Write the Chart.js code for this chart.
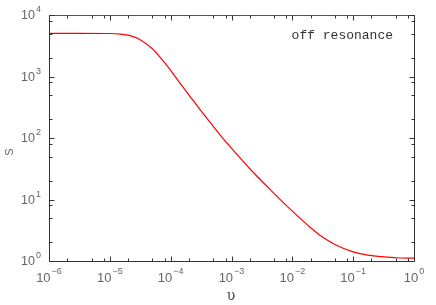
<!DOCTYPE html>
<html>
<head>
<meta charset="utf-8">
<script src="https://cdn.jsdelivr.net/npm/chart.js@4/dist/chart.umd.min.js"></script>
<style>
html,body{margin:0;padding:0;background:#fff;}
#wrap{width:436px;height:305px;position:relative;}
</style>
</head>
<body>
<div id="wrap"><canvas id="c" width="436" height="305"></canvas></div>
<script>
// frequency nu (x) and signal S (y)
const nu = [1e-6, 3e-6, 1e-5, 1.5e-5, 2e-5, 3e-5, 5e-5, 7e-5, 1e-4, 1.4e-4, 2e-4, 3e-4, 5e-4, 7e-4,
            1e-3, 2e-3, 5e-3, 1e-2, 2e-2, 3e-2, 5e-2, 1e-1, 2e-1, 5e-1, 1];
const S  = [5040, 5040, 5000, 4880, 4700, 4070, 2820, 1950, 1260, 794, 500, 295, 155, 102,
            68, 31.6, 12.6, 6.46, 3.47, 2.52, 1.86, 1.41, 1.22, 1.13, 1.11];
const xTickExps = [-6, -5, -4, -3, -2, -1, 0];
const yTickExps = [0, 1, 2, 3, 4];
const minorMult = [2, 5, 8];
const xTitle = 'υ';
const yTitle = 'S';
const annotation = 'off resonance';

const framePlugin = {
  id: 'frame',
  afterDraw(chart) {
    const ctx = chart.ctx;
    const a = chart.chartArea;
    const xs = chart.scales.x, ys = chart.scales.y;
    ctx.save();
    const L = Math.round(a.left) + 0.5, R = Math.round(a.right) + 0.5;
    const T = Math.round(a.top) + 0.5, B = Math.round(a.bottom) + 0.5;
    // frame
    ctx.lineWidth = 1;
    ctx.strokeStyle = '#555';
    ctx.beginPath();
    ctx.moveTo(L - 0.5, T); ctx.lineTo(R, T);
    ctx.stroke();
    ctx.strokeStyle = '#333';
    ctx.beginPath();
    ctx.moveTo(L, T); ctx.lineTo(L, B); ctx.lineTo(R, B); ctx.lineTo(R, T);
    ctx.stroke();
    // ticks
    ctx.beginPath();
    for (let i = 0; i < xTickExps.length; i++) {
      const e = xTickExps[i];
      const px = Math.round(xs.getPixelForValue(Math.pow(10, e))) + 0.5;
      ctx.moveTo(px, B); ctx.lineTo(px, B - 5);
      ctx.moveTo(px, T); ctx.lineTo(px, T + 5);
      if (i < xTickExps.length - 1) {
        for (const m of minorMult) {
          const p = Math.round(xs.getPixelForValue(m * Math.pow(10, e))) + 0.5;
          ctx.moveTo(p, B); ctx.lineTo(p, B - 3);
          ctx.moveTo(p, T); ctx.lineTo(p, T + 3);
        }
      }
    }
    for (let i = 0; i < yTickExps.length; i++) {
      const e = yTickExps[i];
      const py = Math.round(ys.getPixelForValue(Math.pow(10, e))) + 0.5;
      ctx.moveTo(L, py); ctx.lineTo(L + 5, py);
      ctx.moveTo(R, py); ctx.lineTo(R - 5, py);
      if (i < yTickExps.length - 1) {
        for (const m of minorMult) {
          const p = Math.round(ys.getPixelForValue(m * Math.pow(10, e))) + 0.5;
          ctx.moveTo(L, p); ctx.lineTo(L + 3, p);
          ctx.moveTo(R, p); ctx.lineTo(R - 3, p);
        }
      }
    }
    ctx.stroke();

    // x tick labels
    ctx.fillStyle = '#666';
    ctx.textBaseline = 'middle';
    for (const e of xTickExps) {
      const px = xs.getPixelForValue(Math.pow(10, e));
      ctx.font = '13px "Liberation Sans"';
      const w1 = ctx.measureText('10').width;
      ctx.font = '9px "Liberation Sans"';
      const es = e < 0 ? '\u2212' + Math.abs(e) : String(e);
      const w2 = ctx.measureText(es).width;
      const start = px - (w1 + 1 + w2) / 2;
      ctx.font = '13px "Liberation Sans"';
      ctx.textAlign = 'left';
      ctx.fillText('10', start, 278);
      ctx.font = '9px "Liberation Sans"';
      ctx.fillText(es, start + w1 + 1, 271.5);
    }
    // y tick labels
    for (const e of yTickExps) {
      const py = ys.getPixelForValue(Math.pow(10, e));
      ctx.font = '9px "Liberation Sans"';
      ctx.textAlign = 'right';
      const es = String(e);
      const w2 = ctx.measureText(es).width;
      const right = 41;
      ctx.fillText(es, right, py - 5);
      ctx.font = '12.5px "Liberation Sans"';
      ctx.fillText('10', right - w2 - 1, py + 1);
    }
    // axis titles
    ctx.fillStyle = '#444';
    ctx.font = '14px "DejaVu Serif"';
    ctx.textAlign = 'center';
    ctx.textBaseline = 'middle';
    ctx.fillText(xTitle, 231, 296);
    ctx.save();
    ctx.translate(10, 152);
    ctx.rotate(-Math.PI / 2);
    ctx.font = '11px "Liberation Sans"';
    ctx.fillStyle = '#666';
    ctx.fillText(yTitle, 0, 0);
    ctx.restore();
    // annotation
    ctx.fillStyle = '#333';
    ctx.font = '13px "Liberation Mono"';
    ctx.textAlign = 'right';
    ctx.textBaseline = 'alphabetic';
    ctx.fillText(annotation, 393, 39);
    ctx.restore();
  }
};

new Chart(document.getElementById('c'), {
  type: 'line',
  data: {
    datasets: [{
      data: nu.map((v, i) => ({x: v, y: S[i]})),
      borderColor: '#ff0000',
      borderWidth: 1.2,
      pointRadius: 0,
      fill: false,
      cubicInterpolationMode: 'monotone'
    }]
  },
  options: {
    responsive: false,
    animation: false,
    devicePixelRatio: 1,
    layout: {padding: {left: 49, right: 22, top: 15, bottom: 44}},
    plugins: {legend: {display: false}, tooltip: {enabled: false}},
    scales: {
      x: {type: 'logarithmic', min: 1e-6, max: 1, display: false},
      y: {type: 'logarithmic', min: 1, max: 1e4, display: false}
    }
  },
  plugins: [framePlugin]
});
</script>
</body>
</html>
